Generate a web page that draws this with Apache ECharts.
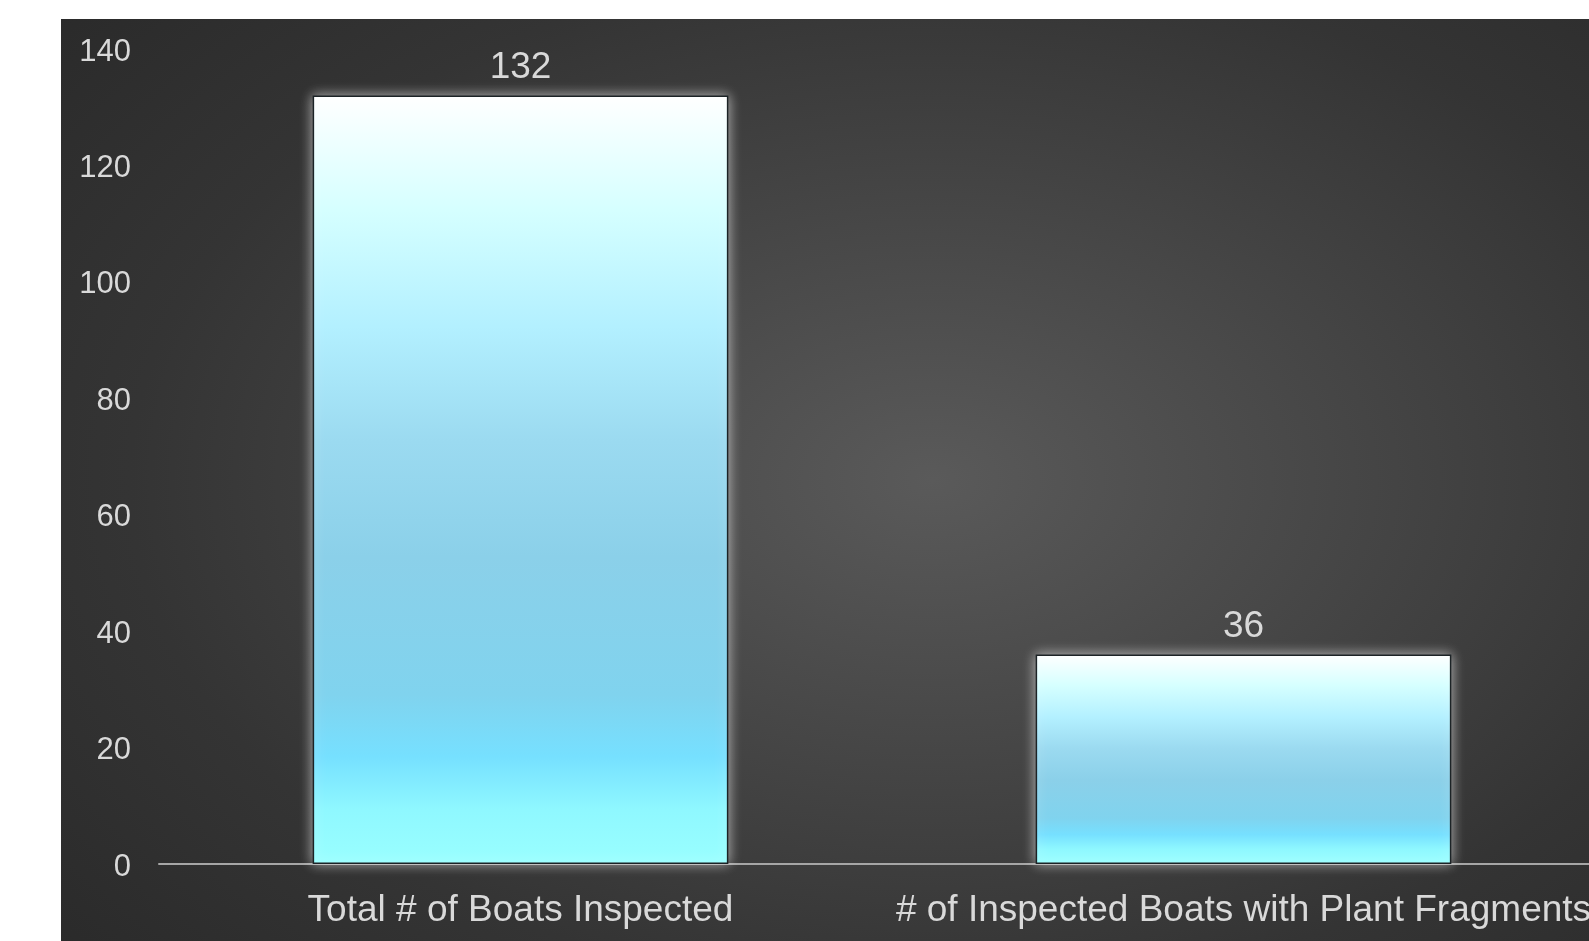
<!DOCTYPE html>
<html>
<head>
<meta charset="utf-8">
<title>Boat Inspections</title>
<script src="https://cdn.jsdelivr.net/npm/echarts@6/dist/echarts.min.js"></script>
<style>
  html, body { margin: 0; padding: 0; width: 1589px; height: 941px; overflow: hidden; background: #ffffff; }
  #panel {
    position: absolute; left: 61px; top: 19px; right: 0; bottom: 0;
    background: radial-gradient(ellipse 75% 80% at 57% 50%, #5a5a5a 0%, #474747 35%, #343434 70%, #2a2a2a 100%);
  }
  #chart { position: absolute; left: 0; top: 0; width: 1620px; height: 941px; }
</style>
</head>
<body>
<div id="panel"></div>
<div id="chart"></div>
<script>
// Inspection counts
const categories = ['Total # of Boats Inspected', '# of Inspected Boats with Plant Fragments'];
const boatCounts = [132, 36];
const yTicks = { min: 0, max: 140, interval: 20 };

const FONT = '"Liberation Sans", Arial, Helvetica, sans-serif';
const TEXT = '#d9d9d9';

const barFill = new echarts.graphic.LinearGradient(0, 0, 0, 1, [
  { offset: 0.00, color: '#ffffff' },
  { offset: 0.15, color: '#d5ffff' },
  { offset: 0.30, color: '#b3f0ff' },
  { offset: 0.45, color: '#9bdaf0' },
  { offset: 0.60, color: '#8bd0e9' },
  { offset: 0.78, color: '#80d3ee' },
  { offset: 0.86, color: '#76e0ff' },
  { offset: 0.93, color: '#8ff8ff' },
  { offset: 1.00, color: '#99ffff' }
]);

const chart = echarts.init(document.getElementById('chart'), null, { renderer: 'canvas' });
chart.setOption({
  backgroundColor: 'transparent',
  animation: false,
  grid: { left: 159, right: 15, top: 49, bottom: 77, containLabel: false },
  xAxis: {
    type: 'category',
    data: categories,
    axisLine: { show: true, lineStyle: { color: '#a6a6a6', width: 2 } },
    axisTick: { show: false },
    axisLabel: { color: TEXT, fontFamily: FONT, fontSize: 37, margin: 28, interval: 0 }
  },
  yAxis: {
    type: 'value',
    min: yTicks.min,
    max: yTicks.max,
    interval: yTicks.interval,
    axisLine: { show: false },
    axisTick: { show: false },
    splitLine: { show: false },
    axisLabel: {
      margin: 28,
      formatter: '{v|{value}}',
      rich: {
        v: { color: TEXT, fontFamily: FONT, fontSize: 31, padding: [6, 0, 0, 0] }
      }
    }
  },
  series: [{
    type: 'bar',
    data: boatCounts,
    barWidth: '57.5%',
    itemStyle: {
      color: barFill,
      borderColor: '#1c2326',
      borderWidth: 1.5,
      shadowColor: 'rgba(255,255,255,0.6)',
      shadowBlur: 12
    },
    label: {
      show: true,
      position: 'top',
      distance: 9,
      color: TEXT,
      fontFamily: FONT,
      fontSize: 37
    }
  }]
});
</script>
</body>
</html>
